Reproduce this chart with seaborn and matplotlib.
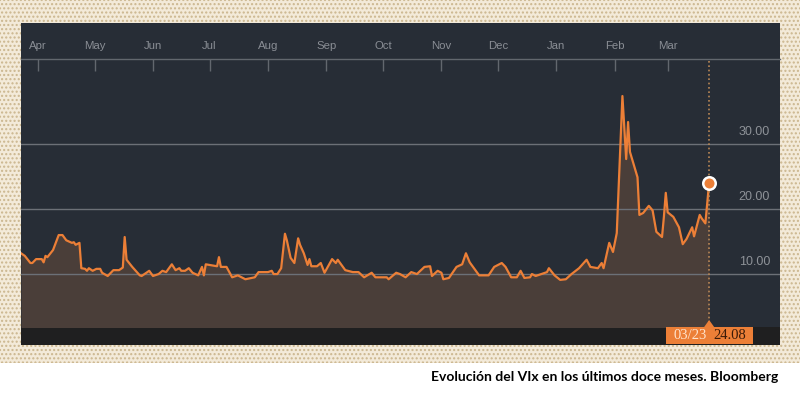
import pandas as pd
import seaborn as sns
import matplotlib.pyplot as plt
import matplotlib.dates as mdates
from matplotlib.patches import Rectangle, Polygon
from matplotlib import transforms

# VIX daily closes
dates = [
    "2017-03-23", "2017-03-25", "2017-03-28", "2017-03-29", "2017-03-31", "2017-04-03",
    "2017-04-04", "2017-04-05", "2017-04-06", "2017-04-09", "2017-04-12", "2017-04-14",
    "2017-04-16", "2017-04-19", "2017-04-20", "2017-04-21", "2017-04-23", "2017-04-24",
    "2017-04-26", "2017-04-27", "2017-04-28", "2017-04-30", "2017-05-02", "2017-05-04",
    "2017-05-05", "2017-05-08", "2017-05-11", "2017-05-14", "2017-05-16", "2017-05-17",
    "2017-05-18", "2017-05-21", "2017-05-25", "2017-05-26", "2017-05-30", "2017-06-01",
    "2017-06-04", "2017-06-06", "2017-06-08", "2017-06-11", "2017-06-13", "2017-06-15",
    "2017-06-16", "2017-06-18", "2017-06-20", "2017-06-22", "2017-06-25", "2017-06-27",
    "2017-06-28", "2017-06-29", "2017-07-05", "2017-07-06", "2017-07-07", "2017-07-10",
    "2017-07-13", "2017-07-16", "2017-07-20", "2017-07-25", "2017-07-27", "2017-08-01",
    "2017-08-03", "2017-08-04", "2017-08-06", "2017-08-08", "2017-08-10", "2017-08-11",
    "2017-08-13", "2017-08-15", "2017-08-17", "2017-08-18", "2017-08-20", "2017-08-22",
    "2017-08-23", "2017-08-24", "2017-08-27", "2017-08-29", "2017-08-31", "2017-09-04",
    "2017-09-06", "2017-09-07", "2017-09-11", "2017-09-15", "2017-09-18", "2017-09-21",
    "2017-09-25", "2017-09-27", "2017-10-03", "2017-10-04", "2017-10-08", "2017-10-10",
    "2017-10-13", "2017-10-16", "2017-10-19", "2017-10-23", "2017-10-26", "2017-10-27",
    "2017-10-30", "2017-11-01", "2017-11-02", "2017-11-05", "2017-11-09", "2017-11-12",
    "2017-11-14", "2017-11-16", "2017-11-21", "2017-11-26", "2017-11-29", "2017-12-03",
    "2017-12-05", "2017-12-08", "2017-12-11", "2017-12-13", "2017-12-15", "2017-12-18",
    "2017-12-19", "2017-12-21", "2017-12-27", "2017-12-28", "2017-12-31", "2018-01-03",
    "2018-01-06", "2018-01-09", "2018-01-13", "2018-01-17", "2018-01-19", "2018-01-23",
    "2018-01-25", "2018-01-26", "2018-01-29", "2018-01-31", "2018-02-02", "2018-02-05",
    "2018-02-07", "2018-02-08", "2018-02-09", "2018-02-13", "2018-02-14", "2018-02-16",
    "2018-02-19", "2018-02-21", "2018-02-23", "2018-02-26", "2018-02-27", "2018-02-28",
    "2018-03-01", "2018-03-04", "2018-03-07", "2018-03-09", "2018-03-11", "2018-03-14",
    "2018-03-15", "2018-03-18", "2018-03-19", "2018-03-21", "2018-03-23",
]
vix = [
    13.2, 12.8, 11.7, 11.7, 12.3, 12.3,
    11.8, 12.8, 12.6, 13.7, 16.0, 16.0,
    15.2, 14.8, 14.9, 14.5, 14.8, 10.9,
    10.8, 10.5, 10.9, 10.5, 10.8, 10.8,
    10.2, 9.7, 10.6, 10.6, 11.0, 15.7,
    12.2, 11.1, 9.8, 9.7, 10.5, 9.7,
    10.0, 10.5, 10.3, 11.5, 10.6, 10.9,
    10.5, 10.5, 10.9, 10.2, 9.8, 11.1,
    9.8, 11.5, 11.2, 12.6, 11.1, 11.1,
    9.5, 9.8, 9.2, 9.5, 10.3, 10.3,
    10.5, 10.0, 10.0, 10.9, 16.2, 15.2,
    12.5, 11.7, 15.5, 14.5, 13.2, 11.4,
    12.3, 11.2, 11.2, 11.7, 10.2, 12.3,
    11.7, 12.2, 10.6, 10.3, 10.3, 9.5,
    10.2, 9.5, 9.5, 9.2, 10.2, 10.0,
    9.5, 10.3, 10.0, 11.1, 11.2, 9.7,
    10.5, 10.2, 9.2, 9.4, 11.1, 11.5,
    13.2, 11.8, 9.8, 9.8, 11.1, 11.7,
    11.1, 9.5, 9.5, 10.5, 9.4, 9.5,
    10.0, 9.7, 10.3, 10.9, 9.8, 9.1,
    9.2, 10.0, 10.9, 12.2, 11.1, 10.9,
    11.7, 10.9, 14.8, 13.4, 16.3, 37.4,
    27.7, 33.4, 28.8, 24.9, 19.1, 19.4,
    20.5, 19.8, 16.5, 15.7, 18.8, 22.5,
    19.5, 18.8, 17.2, 14.6, 15.4, 17.2,
    15.8, 19.1, 18.6, 17.8, 24.08,
]

month_ticks = ["2017-04-01", "2017-05-01", "2017-06-01", "2017-07-01", "2017-08-01",
               "2017-09-01", "2017-10-01", "2017-11-01", "2017-12-01", "2018-01-01",
               "2018-02-01", "2018-03-01"]
month_labels = ["Apr", "May", "Jun", "Jul", "Aug", "Sep", "Oct", "Nov", "Dec", "Jan", "Feb", "Mar"]
y_ticks = [10, 20, 30]

caption = "Evolución del VIx en los últimos doce meses. Bloomberg"

df = pd.DataFrame({"date": pd.to_datetime(dates), "vix": vix})
last_date = df["date"].iloc[-1]
last_val = df["vix"].iloc[-1]

orange = "#ec7f37"
panel = "#272d36"
grey = "#62676e"

fig = plt.figure(figsize=(8, 3.95), dpi=100)
fig.patch.set_facecolor("white")

# beige dotted frame + dark panel
fig.patches.append(Rectangle((0, 0.081), 1, 0.919, transform=fig.transFigure,
                             facecolor="#f3ead9", edgecolor="#cbb68e", hatch="....",
                             lw=0, zorder=-3))
fig.patches.append(Rectangle((0.02625, 0.12658), 0.94875, 0.81519, transform=fig.transFigure,
                             facecolor=panel, lw=0, zorder=-2))
fig.patches.append(Rectangle((0.02625, 0.12658), 0.94875, 0.04557, transform=fig.transFigure,
                             facecolor="#1f1f20", lw=0, zorder=-1))

ax = fig.add_axes([0.02625, 0.17215, 0.94875, 0.67848])
ax.set_facecolor(panel)

ax.fill_between(df["date"], df["vix"], 0, color="#4a3e39", lw=0, zorder=1)
for v in y_ticks:
    ax.axhline(v, color="#6c7077", lw=1, zorder=2)
sns.lineplot(data=df, x="date", y="vix", ax=ax, color=orange, lw=1.6, zorder=3)

ax.set_xlim(pd.Timestamp("2017-03-23"), pd.Timestamp("2018-04-29 14:00"))
ax.set_ylim(1.85, 43.1)

# month axis on top
ax.xaxis.tick_top()
ax.set_xticks(pd.to_datetime(month_ticks))
ax.set_xticklabels(month_labels)
ax.tick_params(axis="x", direction="in", length=8.6, width=1, color=grey,
               pad=5.5, labelsize=8.2, labelcolor="#8a8e95")
for lab in ax.get_xticklabels():
    lab.set_fontfamily("Liberation Sans")
ax.set_yticks([])
ax.set_xlabel("")
ax.set_ylabel("")
for s in ["left", "right", "bottom"]:
    ax.spines[s].set_visible(False)
ax.spines["top"].set_color(grey)
ax.spines["top"].set_linewidth(1)

# value labels on the right, above each grid line
trans = transforms.blended_transform_factory(ax.transAxes, ax.transData)
for v in y_ticks:
    ax.annotate(f"{v:.2f}", xy=(0.9868, v), xycoords=trans, xytext=(0, 4.5),
                textcoords="offset points", ha="right", va="bottom",
                fontsize=9, color="#8e9298", family="Liberation Sans")

# current value marker and dotted guide
ax.axvline(last_date, color="#b98756", ls=(0, (1, 1.6)), lw=1.2, zorder=4)
ax.plot([last_date], [last_val], "o", ms=9, mfc=orange, mec="white", mew=1.8, zorder=5)

# orange tag at the bottom
px, py = ax.transData.transform((mdates.date2num(last_date), ax.get_ylim()[0]))
W, H = 800.0, 395.0
fig.patches.append(Rectangle(((px - 43) / W, (py - 17) / H), 87 / W, 17 / H,
                             transform=fig.transFigure, facecolor=orange, lw=0, zorder=5))
fig.patches.append(Polygon([((px - 5) / W, py / H), (px / W, (py + 7) / H), ((px + 5) / W, py / H)],
                           closed=True, transform=fig.transFigure, facecolor=orange, lw=0, zorder=5))
fig.text((px - 19) / W, (py - 8.5) / H, last_date.strftime("%m/%d"), ha="center", va="center",
         fontsize=10.5, color="#ffe3cc", family="Liberation Serif", zorder=7)
fig.text((px + 21) / W, (py - 8.5) / H, f"{last_val:.2f}", ha="center", va="center",
         fontsize=10.5, color="#3a1a08", family="Liberation Serif", zorder=7)

fig.text(0.9725, 0.0456, caption, ha="right", va="center", fontsize=10,
         fontweight="bold", color="black", family="Lato")

fig.savefig("out.png", dpi=100)
